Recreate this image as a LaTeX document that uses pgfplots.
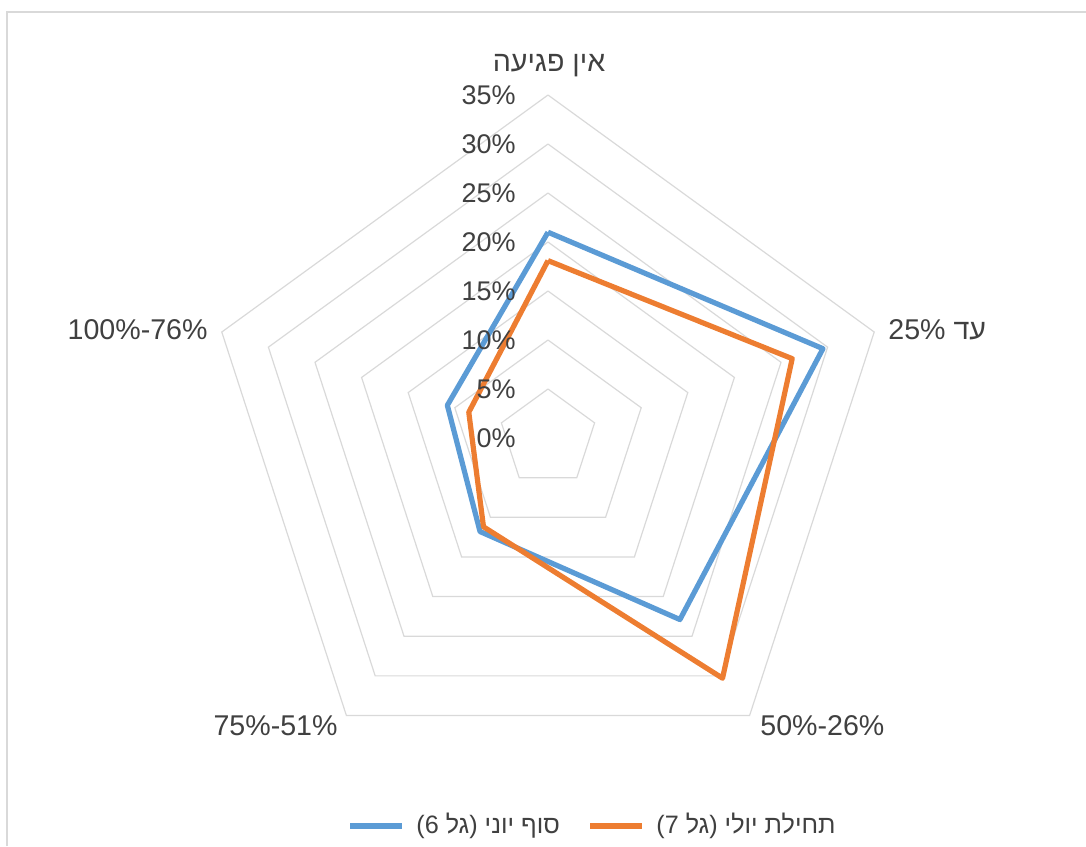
\documentclass[border=0pt]{standalone}
\usepackage{fontspec}
\setmainfont{Liberation Sans}
\newfontfamily\heb[Script=Hebrew]{Liberation Sans}
\usepackage{pgfplots}
\pgfplotsset{compat=1.18}
\usepgfplotslibrary{polar}
\TeXXeTstate=1
\definecolor{sblue}{HTML}{5B9BD5}
\definecolor{sorange}{HTML}{ED7D31}
\definecolor{gridc}{HTML}{D9D9D9}
\definecolor{txt}{HTML}{404040}

\begin{document}
\begin{tikzpicture}[x=0.5pt,y=-0.5pt]
\path[use as bounding box] (0,0) rectangle (1086,846);
\draw[gridc, line width=1pt] (7,846) -- (7,12) -- (1086,12);

\begin{polaraxis}[
    at={(274pt,-219pt)}, anchor=center,
    width=343pt, height=343pt, scale only axis,
    hide axis,
    ymin=0, ymax=35,
    clip=false,
]
% pentagon rings
\pgfplotsinvokeforeach{5,10,...,35}{
  \addplot[gridc, line width=0.6pt, mark=none] coordinates {(90,#1) (18,#1) (-54,#1) (-126,#1) (162,#1) (90,#1)};
}
% series: end of June (wave 6)
\addplot[sblue, line width=2.6pt, line join=round, mark=none] coordinates {
  (90,21.0) (18,29.5) (-54,22.9) (-126,11.8) (162,10.8) (90,21.0)};
% series: early July (wave 7)
\addplot[sorange, line width=2.6pt, line join=round, mark=none] coordinates {
  (90,18.1) (18,26.2) (-54,30.3) (-126,11.2) (162,8.5) (90,18.1)};
% radial tick labels
\pgfplotsinvokeforeach{0,5,...,35}{
  \node[anchor=east, inner sep=0pt, xshift=-16pt, text=txt, font=\fontsize{13.5}{15}\selectfont] at (axis cs:90,#1) {#1\%};
}
\end{polaraxis}

\begin{scope}[every node/.style={text=txt, inner sep=0pt, font=\fontsize{14.3}{16}\selectfont}]
\node at (549,66) {\heb\beginR אין פגיעה\endR};
\node[anchor=west] at (888,330) {25\% {\heb\beginR עד\endR}};
\node[anchor=east] at (208,330) {100\%-76\%};
\node[anchor=east] at (338,726) {75\%-51\%};
\node[anchor=west] at (760,726) {50\%-26\%};
\end{scope}

% legend
\begin{scope}[every node/.style={text=txt, inner sep=0pt, font=\fontsize{12.6}{15}\selectfont}]
\draw[sblue, line width=2.6pt] (350,826) -- (402,826);
\node[anchor=west] at (416,826) {(6 {\heb\beginR גל\endR}) {\heb\beginR סוף יוני\endR}};
\draw[sorange, line width=2.6pt] (590,826) -- (642,826);
\node[anchor=west] at (656,826) {(7 {\heb\beginR גל\endR}) {\heb\beginR תחילת יולי\endR}};
\end{scope}
\end{tikzpicture}
\end{document}
